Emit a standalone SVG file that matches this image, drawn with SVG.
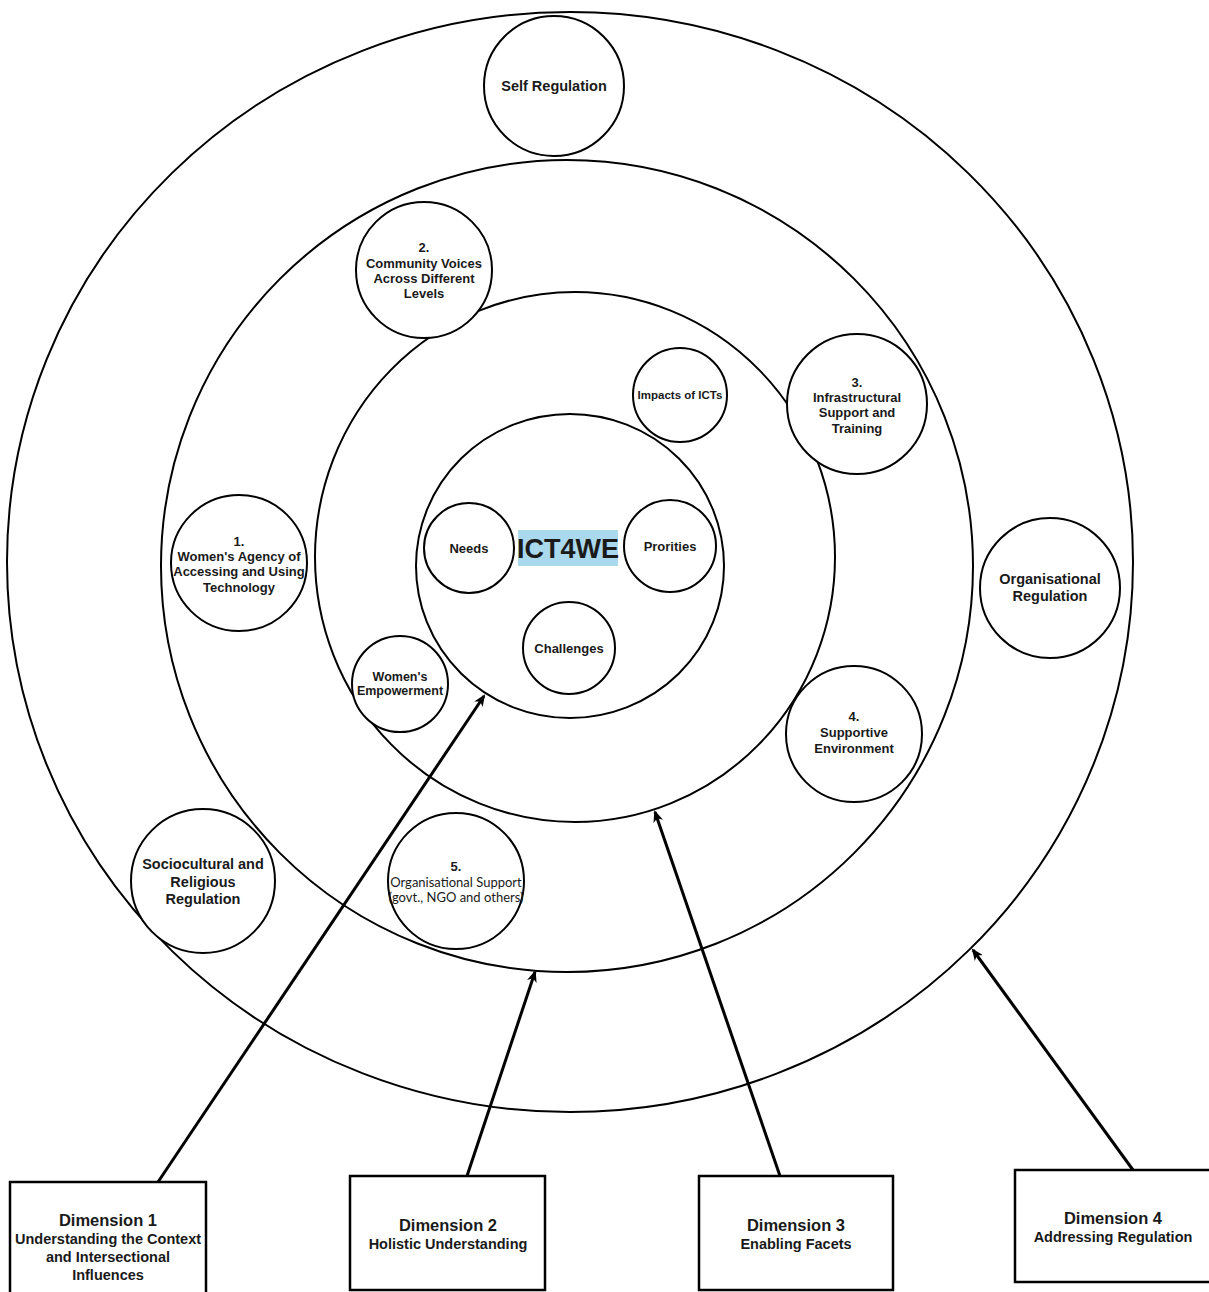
<svg xmlns="http://www.w3.org/2000/svg" width="1209" height="1292" viewBox="0 0 1209 1292">
  <defs>
    <marker id="arrow" markerWidth="12" markerHeight="10" refX="10" refY="5" orient="auto" markerUnits="userSpaceOnUse">
      <path d="M0,0 L12,5 L0,10 L3.5,5 Z" fill="#000"/>
    </marker>
    <style>
      .ring { fill: none; stroke: #000; stroke-width: 2; }
      .node { fill: #fff; stroke: #000; stroke-width: 2; }
      .box { fill: #fff; stroke: #000; stroke-width: 2.5; }
      .conn { stroke: #000; stroke-width: 3; fill: none; marker-end: url(#arrow); }
      text { font-family: "Liberation Sans", Arial, sans-serif; font-weight: bold; fill: #1a1a1a; text-anchor: middle; }
      .t14 { font-size: 14.5px; }
      .t13 { font-size: 13px; }
      .t12 { font-size: 12.5px; }
      .t11 { font-size: 11.5px; }
      .dim { font-size: 16.5px; }
      .sub { font-size: 14.5px; }
      .cal { font-family: Lato, "Open Sans", sans-serif; font-weight: normal; font-size: 13px; }
    </style>
  </defs>
  <rect width="1209" height="1292" fill="#fff"/>

  <!-- concentric rings -->
  <g id="rings">
    <ellipse id="ring-outer" class="ring" cx="570" cy="562" rx="563" ry="550"/>
    <circle id="ring-2" class="ring" cx="567" cy="566" r="406"/>
    <ellipse id="ring-3" class="ring" cx="575" cy="557" rx="260" ry="265"/>
    <ellipse id="ring-inner" class="ring" cx="570" cy="566" rx="154" ry="152"/>
  </g>

  <!-- ICT4WE core label -->
  <g id="core">
    <rect x="518" y="530" width="100" height="36" fill="#aad8ec"/>
    <text x="568" y="558" style="font-size:27px" fill="#111">ICT4WE</text>
  </g>

  <g id="self-regulation">
    <circle class="node" cx="554" cy="86" r="70"/>
    <text class="t14" x="554" y="91">Self Regulation</text>
  </g>

  <g id="community-voices">
    <circle class="node" cx="424" cy="270" r="68"/>
    <text class="t13" x="424" y="252">2.</text>
    <text class="t13" x="424" y="268">Community Voices</text>
    <text class="t13" x="424" y="283">Across Different</text>
    <text class="t13" x="424" y="298">Levels</text>
  </g>

  <g id="impacts">
    <circle class="node" cx="680" cy="395" r="47"/>
    <text class="t11" x="680" y="399">Impacts of ICTs</text>
  </g>

  <g id="infrastructure">
    <circle class="node" cx="857" cy="404" r="70"/>
    <text class="t13" x="857" y="387">3.</text>
    <text class="t13" x="857" y="402">Infrastructural</text>
    <text class="t13" x="857" y="417">Support and</text>
    <text class="t13" x="857" y="433">Training</text>
  </g>

  <g id="womens-agency">
    <circle class="node" cx="239" cy="563" r="68"/>
    <text class="t13" x="239" y="546">1.</text>
    <text class="t13" x="239" y="561">Women's Agency of</text>
    <text class="t13" x="239" y="576">Accessing and Using</text>
    <text class="t13" x="239" y="592">Technology</text>
  </g>

  <g id="organisational-regulation">
    <circle class="node" cx="1050" cy="588" r="70"/>
    <text class="t14" x="1050" y="584">Organisational</text>
    <text class="t14" x="1050" y="601">Regulation</text>
  </g>

  <g id="needs">
    <circle class="node" cx="469" cy="548" r="45"/>
    <text class="t13" x="469" y="553">Needs</text>
  </g>

  <g id="priorities">
    <circle class="node" cx="670" cy="546" r="46"/>
    <text class="t13" x="670" y="551">Prorities</text>
  </g>

  <g id="challenges">
    <circle class="node" cx="569" cy="648" r="46"/>
    <text class="t13" x="569" y="653">Challenges</text>
  </g>

  <g id="womens-empowerment">
    <circle class="node" cx="400" cy="684" r="48"/>
    <text class="t12" x="400" y="681">Women's</text>
    <text class="t12" x="400" y="695">Empowerment</text>
  </g>

  <g id="supportive-environment">
    <circle class="node" cx="854" cy="734" r="68"/>
    <text class="t13" x="854" y="721">4.</text>
    <text class="t13" x="854" y="737">Supportive</text>
    <text class="t13" x="854" y="753">Environment</text>
  </g>

  <g id="sociocultural">
    <circle class="node" cx="203" cy="881" r="72"/>
    <text class="t14" x="203" y="869">Sociocultural and</text>
    <text class="t14" x="203" y="887">Religious</text>
    <text class="t14" x="203" y="904">Regulation</text>
  </g>

  <g id="organisational-support">
    <circle class="node" cx="456" cy="881" r="68"/>
    <text class="t13" x="456" y="871">5.</text>
    <text class="cal" x="456" y="887">Organisational Support</text>
    <text class="cal" x="456" y="902">(govt., NGO and others)</text>
  </g>

  <!-- dimension boxes -->
  <g id="dimension-1">
    <rect class="box" x="10" y="1182" width="196" height="112"/>
    <text class="dim" x="108" y="1226">Dimension 1</text>
    <text class="sub" x="108" y="1244">Understanding the Context</text>
    <text class="sub" x="108" y="1262">and Intersectional</text>
    <text class="sub" x="108" y="1280">Influences</text>
  </g>

  <g id="dimension-2">
    <rect class="box" x="350" y="1176" width="195" height="114"/>
    <text class="dim" x="448" y="1231">Dimension 2</text>
    <text class="sub" x="448" y="1249">Holistic Understanding</text>
  </g>

  <g id="dimension-3">
    <rect class="box" x="699" y="1176" width="194" height="114"/>
    <text class="dim" x="796" y="1231">Dimension 3</text>
    <text class="sub" x="796" y="1249">Enabling Facets</text>
  </g>

  <g id="dimension-4">
    <rect class="box" x="1015" y="1170" width="196" height="112"/>
    <text class="dim" x="1113" y="1224">Dimension 4</text>
    <text class="sub" x="1113" y="1242">Addressing Regulation</text>
  </g>

  <!-- connectors from each dimension to its ring -->
  <g id="connectors">
    <line class="conn" x1="158" y1="1182" x2="484" y2="696"/>
    <line class="conn" x1="467" y1="1176" x2="535" y2="972"/>
    <line class="conn" x1="780" y1="1176" x2="655" y2="812"/>
    <line class="conn" x1="1133" y1="1170" x2="973" y2="950"/>
  </g>
</svg>
